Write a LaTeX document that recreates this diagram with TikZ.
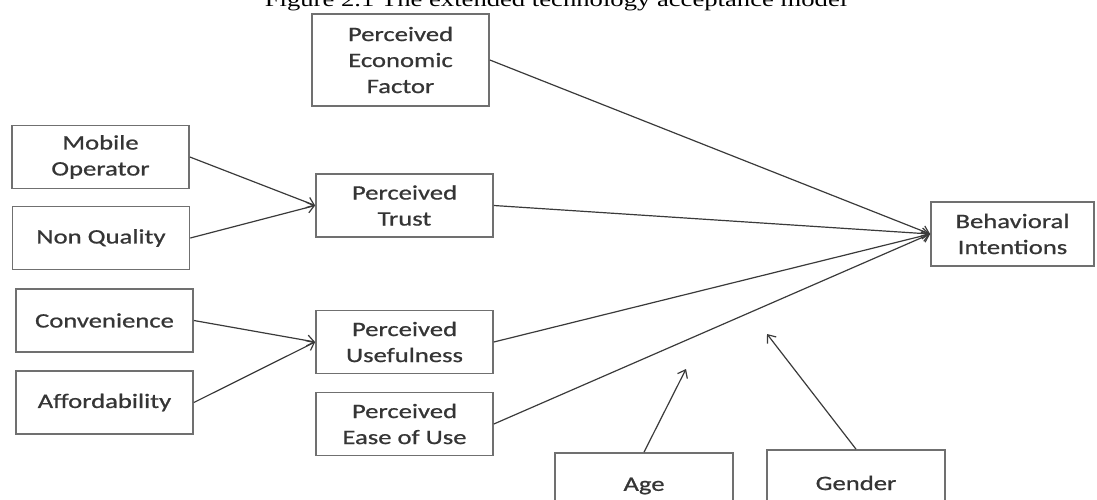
\documentclass[tikz,border=0pt]{standalone}
\usepackage{fontspec}
\usepackage{xcolor}
\usetikzlibrary{arrows.meta}
\newfontfamily\boxfont{Carlito}[FakeStretch=1.3,FakeBold=0.8]
\newfontfamily\capfont{Liberation Serif}[FakeStretch=1.3]
\definecolor{boxline}{HTML}{707070}
\definecolor{arrowline}{HTML}{3A3A3A}
\definecolor{boxtext}{HTML}{353535}
\tikzset{factor/.style={draw=boxline,line width=1.7pt,minimum width=177pt,minimum height=63pt,inner sep=0pt,align=center,text=boxtext,font=\boxfont\fontsize{20.5}{26}\selectfont},
link/.style={->,>={Straight Barb[length=7pt,width=11pt]},arrowline,line width=1.2pt}}

\begin{document}
\begin{tikzpicture}[x=1pt,y=-1pt]
\useasboundingbox (0,0) rectangle (1097,500);
\node[anchor=base,font=\capfont\fontsize{20.5}{24}\selectfont] (cap) at (556,7) {Figure 2.1 The extended technology acceptance model};
\node[factor,minimum height=92pt] (0) at (400.5,60) {Perceived\\Economic\\Factor};
\node[factor] (1) at (100.5,157) {Mobile\\Operator};
\node[factor] (2) at (101,238) {Non Quality};
\node[factor] (3) at (104.5,320.5) {Convenience};
\node[factor] (4) at (104.5,402.5) {Affordability};
\node[factor] (5) at (404.5,205.5) {Perceived\\Trust};
\node[factor] (6) at (404.5,342) {Perceived\\Usefulness};
\node[factor] (7) at (404.5,424) {Perceived\\Ease of Use};
\node[factor,minimum width=163pt,minimum height=64pt] (8) at (1012.5,234) {Behavioral\\Intentions};
\node[factor,minimum width=178pt,minimum height=66pt] (9) at (644,486) {Age};
\node[factor,minimum width=178pt,minimum height=66pt] (10) at (856,483) {Gender};
\coordinate (a) at (686,369);
\coordinate (g) at (767,334);
\draw [link](1.east)--(5.west);
\draw [link](2.east)--(5.west);
\draw [link](3.east)--(6.west);
\draw [link](4.east)--(6.west);
\draw [link](0.east)--(8.west);
\draw [link](5.east)--(8.west);
\draw [link](6.east)--(8.west);
\draw [link](7.east)--(8.west);
\draw [link](9.north)--(a);
\draw [link](10.north)--(g);
\end{tikzpicture}
\end{document}
